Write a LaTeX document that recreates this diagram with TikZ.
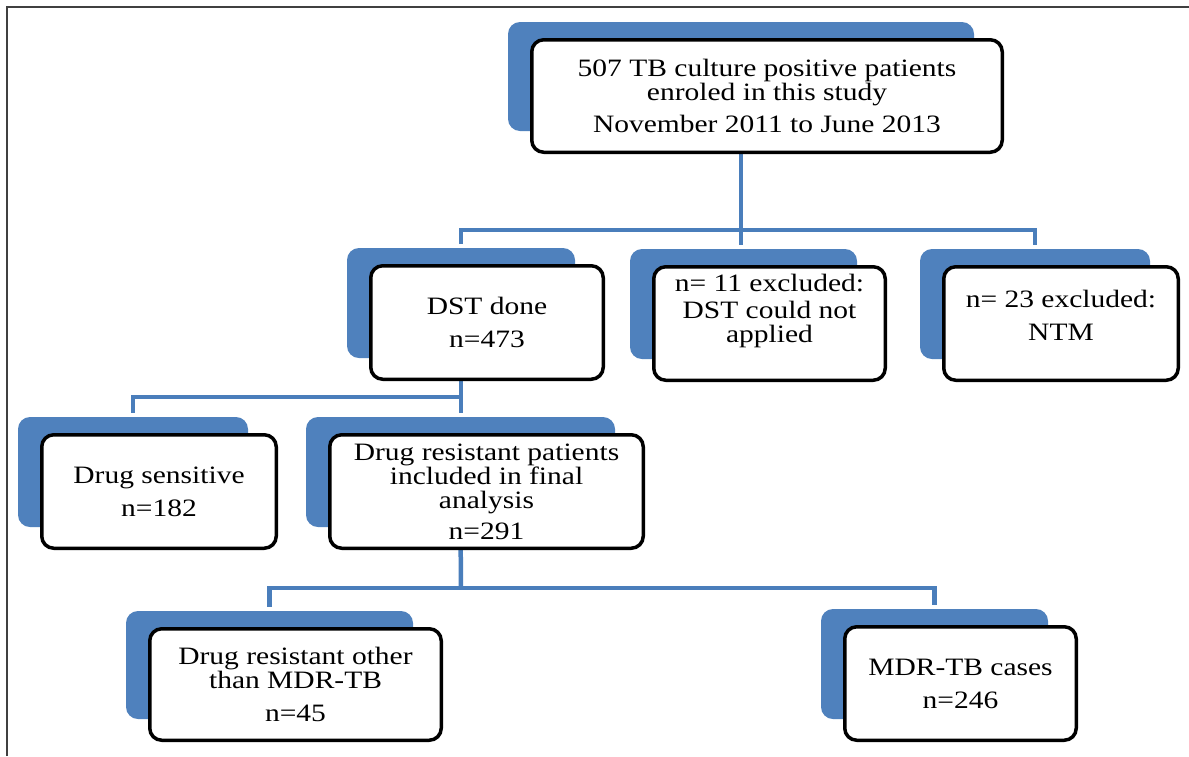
\documentclass[tikz,border=0pt]{standalone}
\usepackage{fontspec}
\setmainfont{Liberation Serif}[FakeStretch=1.18]
\definecolor{boxblue}{HTML}{4F81BD}
\definecolor{connblue}{HTML}{4A7EBB}
\definecolor{framegray}{HTML}{404040}
\tikzset{
  bbox/.style={fill=boxblue, draw=none, rounded corners=12pt, inner sep=0pt},
  wbox/.style={fill=white, draw=black, line width=3.5pt, rounded corners=12pt, inner sep=0pt,
    align=center, font=\fontsize{25}{24}\selectfont},
  conn/.style={draw=connblue, line width=4.5pt},
}
\newcommand{\bluebox}[5]{%
  \node[bbox, minimum width={(#4-#2-8)*1pt}, minimum height={(#5-#3-7)*1pt}]
    (#1) at ({(#2+#4)/2-26},{(#3+#5)/2-19.5}) {};}
\newcommand{\whitebox}[6]{%
  \node[wbox, minimum width={(#4-#2-3.5)*1pt}, minimum height={(#5-#3-3.5)*1pt}]
    (#1) at ({(#2+#4)/2},{(#3+#5)/2}) {#6};}
\begin{document}
\begin{tikzpicture}[x=1pt,y=-1pt]
\useasboundingbox (0,0) rectangle (1189,756);
\fill[white] (0,0) rectangle (1189,756);
\draw[framegray, line width=2.5pt] (7,756) -- (7,7) -- (1189,7);
% blue back shapes
\bluebox{topb}{530}{38}{1004}{154}
\bluebox{dstb}{369}{264}{605}{381}
\bluebox{exab}{652}{265}{887}{382}
\bluebox{exbb}{942}{265}{1180}{382}
\bluebox{sensb}{40}{433}{278}{550}
\bluebox{resb}{328}{433}{645}{550}
\bluebox{othb}{148}{627}{443}{742}
\bluebox{mdrb}{843}{625}{1078}{742}
% connectors
\coordinate (bus1) at (742,230);
\coordinate (bus2) at (461,397);
\coordinate (bus3) at (461,588);
\draw[conn] (topb.south) -- ([yshift=4pt]topb.south |- exab.north);
\draw[conn] ([yshift=4pt]dstb.north) |- (bus1) -| ([yshift=4pt]exbb.north);
\draw[conn] (dstb.south) -- ([yshift=4pt]dstb.south |- resb.north);
\draw[conn] ([yshift=4pt]sensb.north) |- (bus2);
\draw[conn] (resb.south) -- (bus3);
\draw[conn] ([yshift=4pt]othb.north) |- (bus3) -| ([yshift=4pt]mdrb.north);
% white front boxes
\whitebox{top}{530}{38}{1004}{154}{507 TB culture positive patients\\ enroled in this study\\[8pt] November 2011 to June 2013}
\whitebox{dst}{369}{264}{605}{381}{DST done\\[9pt] n=473}
\whitebox{exa}{652}{265}{887}{382}{n= 11 excluded:\\[3pt] DST could not\\ applied\\[6pt] \mbox{}}
\whitebox{exb}{942}{265}{1180}{382}{n= 23 excluded:\\[9pt] NTM\\[-8pt] \mbox{}}
\whitebox{sens}{40}{433}{278}{550}{Drug sensitive\\[9pt] n=182}
\whitebox{res}{328}{433}{645}{550}{Drug resistant patients\\ included in final\\ analysis\\[7pt] n=291}
\whitebox{oth}{148}{627}{443}{742}{Drug resistant other\\ than MDR-TB\\[9pt] n=45}
\whitebox{mdr}{843}{625}{1078}{742}{MDR-TB cases\\[9pt] n=246}
\end{tikzpicture}
\end{document}
